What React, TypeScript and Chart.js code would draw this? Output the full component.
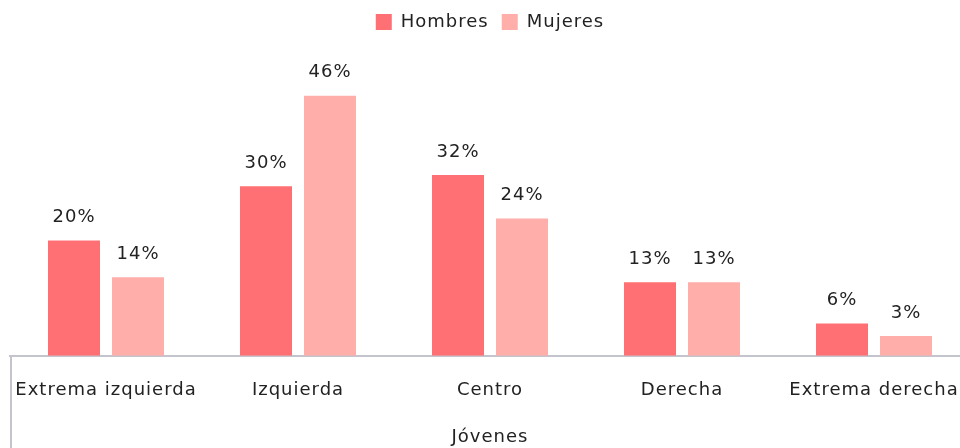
import React, { useEffect, useRef } from "react";
import { Chart, registerables } from "chart.js";

Chart.register(...registerables);

const categories = ["Extrema izquierda", "Izquierda", "Centro", "Derecha", "Extrema derecha"];
const hombres = [20.4, 30, 32, 13, 5.7];
const mujeres = [13.9, 46, 24.3, 13, 3.5];
const hombresLabels = ["20%", "30%", "32%", "13%", "6%"];
const mujeresLabels = ["14%", "46%", "24%", "13%", "3%"];
const axisTitle = "Jóvenes";

const FONT = "'DejaVu Sans', sans-serif";
const TEXT = "#222222";
const SPACING = "1px";

const spacingPlugin = {
  id: "spacing",
  beforeUpdate(chart: any) {
    chart.ctx.letterSpacing = SPACING;
  },
  beforeLayout(chart: any) {
    chart.ctx.letterSpacing = SPACING;
  },
  beforeDraw(chart: any) {
    chart.ctx.letterSpacing = SPACING;
  },
};

const labelPlugin = {
  id: "barLabels",
  afterDatasetsDraw(chart: any) {
    const ctx = chart.ctx;
    const lists = [hombresLabels, mujeresLabels];
    ctx.save();
    ctx.letterSpacing = SPACING;
    ctx.font = `18px ${FONT}`;
    ctx.fillStyle = TEXT;
    ctx.textAlign = "center";
    ctx.textBaseline = "bottom";
    chart.data.datasets.forEach((_ds: any, i: number) => {
      const meta = chart.getDatasetMeta(i);
      meta.data.forEach((el: any, j: number) => {
        ctx.fillText(lists[i][j], el.x, el.y - 14);
      });
    });
    ctx.restore();
  },
};

const edgePlugin = {
  id: "edgeLine",
  afterDraw(chart: any) {
    const ctx = chart.ctx;
    const x = chart.scales.x;
    ctx.save();
    ctx.strokeStyle = "#c4c4cc";
    ctx.lineWidth = 2;
    ctx.beginPath();
    ctx.moveTo(x.left + 1, chart.chartArea.bottom);
    ctx.lineTo(x.left + 1, chart.height);
    ctx.stroke();
    ctx.restore();
  },
};

export default function App() {
  const ref = useRef<HTMLCanvasElement>(null);
  useEffect(() => {
    if (!ref.current) return;
    const chart = new Chart(ref.current, {
      type: "bar",
      data: {
        labels: categories,
        datasets: [
          { label: "Hombres", data: hombres, backgroundColor: "#ff7075" },
          { label: "Mujeres", data: mujeres, backgroundColor: "#ffaeaa" },
        ],
      },
      options: {
        responsive: true,
        maintainAspectRatio: false,
        animation: false,
        layout: { padding: { left: 10, right: 0, top: 0, bottom: 0 } },
        datasets: {
          bar: { categoryPercentage: 0.6667, barPercentage: 0.8125 },
        },
        plugins: {
          legend: {
            position: "top",
            labels: {
              boxWidth: 16,
              boxHeight: 16,
              padding: 13,
              color: TEXT,
              font: { family: FONT, size: 18 },
            },
          },
          tooltip: { enabled: false },
        },
        scales: {
          x: {
            grid: { display: false, drawTicks: false },
            border: { display: true, color: "#c4c4cc", width: 2 },
            ticks: { color: TEXT, font: { family: FONT, size: 18 }, padding: 24, maxRotation: 0, autoSkip: false },
            title: { display: true, text: axisTitle, color: TEXT, font: { family: FONT, size: 18 }, padding: { top: 1, bottom: 0 } },
            afterFit(scale: any) {
              scale.paddingLeft = 0;
              scale.paddingRight = 0;
            },
          },
          y: { display: false, min: 0, max: 55.7 },
        },
      },
      plugins: [spacingPlugin, labelPlugin, edgePlugin],
    });
    return () => chart.destroy();
  }, []);
  return (
    <div style={{ position: "fixed", left: 0, top: 0, width: 970, height: 448, overflow: "hidden" }}>
      <canvas ref={ref} />
    </div>
  );
}
